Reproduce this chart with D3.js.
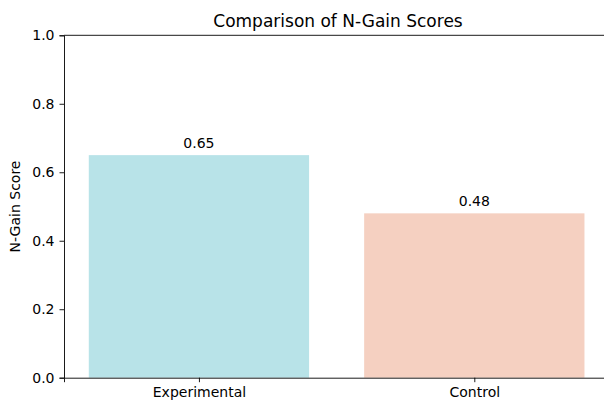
<!DOCTYPE html>
<html><head><meta charset="utf-8">
<script src="https://cdn.jsdelivr.net/npm/d3@7"></script>
<style>body{margin:0;background:#fff}svg{display:block;font-family:"DejaVu Sans",sans-serif}</style>
</head><body><svg id="c" width="604" height="403"></svg>
<script>
const categories = ["Experimental", "Control"];
const values = [0.65, 0.48];
const valueLabels = ["0.65", "0.48"];
const yTicks = [0.0, 0.2, 0.4, 0.6, 0.8, 1.0];
const colors = ["#b8e3e8", "#f5d0c1"];

(function () {
const svg = d3.select("#c");
const mL = 64, mR = 612, mT = 35.3, mB = 377.7;
const x = d3.scaleLinear().domain([-0.49, 1.5]).range([mL, mR]);
const y = d3.scaleLinear().domain([0, 1]).range([mB, mT]);
const bw = x(0.8) - x(0);

svg.selectAll("rect.bar").data(values).enter().append("rect")
  .attr("x", (d, i) => x(i) - bw / 2).attr("width", bw)
  .attr("y", d => y(d)).attr("height", d => mB - y(d))
  .attr("fill", (d, i) => colors[i]);

svg.selectAll("text.val").data(values).enter().append("text")
  .attr("x", (d, i) => x(i)).attr("y", d => y(d) - 7)
  .attr("text-anchor", "middle").attr("font-size", 14).attr("fill", "#000")
  .text((d, i) => valueLabels[i]);

const ya = svg.append("g").attr("transform", `translate(${mL},0)`)
  .call(d3.axisLeft(y).tickValues(yTicks).tickFormat(d3.format(".1f")).tickSizeOuter(0).tickSize(4.5).tickPadding(5));
const xa = svg.append("g").attr("transform", `translate(0,${mB})`)
  .call(d3.axisBottom(x).tickValues([0, 1]).tickFormat(d => categories[d]).tickSizeOuter(0).tickSize(4.5).tickPadding(5));
[ya, xa].forEach(a => {
  a.selectAll("text").attr("font-size", 14).attr("fill", "#000").attr("font-family", "DejaVu Sans");
  a.selectAll("line").attr("stroke", "#000").attr("stroke-width", 0.9);
  a.select(".domain").attr("stroke", "#000").attr("stroke-width", 0.9);
});
svg.append("line").attr("x1", mL).attr("x2", mR).attr("y1", mT).attr("y2", mT)
  .attr("stroke", "#000").attr("stroke-width", 0.9);

svg.append("text").attr("x", 338).attr("y", 27).attr("text-anchor", "middle")
  .attr("font-size", 17).attr("fill", "#000").text("Comparison of N-Gain Scores");
svg.append("text").attr("transform", `translate(20,${(mT + mB) / 2}) rotate(-90)`)
  .attr("text-anchor", "middle").attr("font-size", 14).attr("fill", "#000").text("N-Gain Score");
})();
</script></body></html>
